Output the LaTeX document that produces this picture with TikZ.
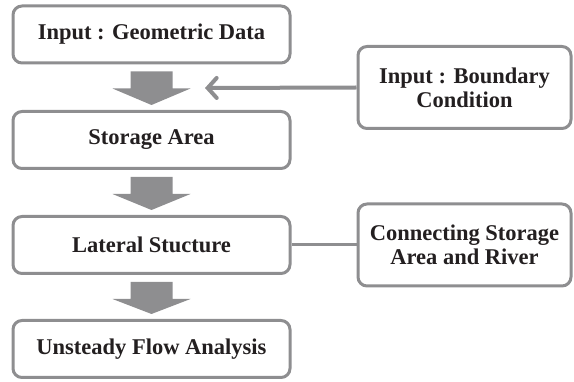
\documentclass[tikz,border=0pt]{standalone}
\usepackage{fontspec}
\setmainfont{Liberation Serif}
\usetikzlibrary{arrows.meta,calc}
\definecolor{boxgray}{HTML}{8E8E90}
\definecolor{txt}{HTML}{231F20}
\tikzset{
  box/.style={draw=boxgray, line width=3pt, rounded corners=9pt, fill=white,
    text=txt, font=\bfseries\fontsize{22.5}{24}\selectfont, align=center,
    inner sep=0pt},
  mainbox/.style={box, minimum width=277pt, minimum height=57pt},
  sidebox/.style={box, minimum width=213pt, minimum height=82pt},
  blockarrow/.style={fill=boxgray, draw=none},
  link/.style={draw=boxgray, line width=3pt}
}
\newcommand{\blockarr}[2]{%
  \fill[blockarrow] ($(#1.south)+(-21,7)$) -- ($(#1.south)+(21,7)$)
    -- ($(#1.south)+(21,24)$) -- ($(#1.south)+(39,24)$)
    -- ($(#2.north)+(0,-5)$) -- ($(#1.south)+(-39,24)$)
    -- ($(#1.south)+(-21,24)$) -- cycle;}
\begin{document}
\begin{tikzpicture}[x=1pt,y=-1pt]
\useasboundingbox (0,0) rectangle (574,382);
\node[mainbox] (b1) at (151.5,34.5) {Input : Geometric Data};
\node[mainbox] (b2) at (151.5,140) {Storage Area};
\node[mainbox] (b3) at (151.5,245) {Lateral Stucture};
\node[mainbox] (b4) at (151.5,349) {Unsteady Flow Analysis};
\node[sidebox] (s1) at (464.5,87.5) {Input : Boundary\\Condition};
\node[sidebox] (s2) at (464.5,245) {Connecting Storage\\Area and River};
\blockarr{b1}{b2}
\blockarr{b2}{b3}
\blockarr{b3}{b4}
\coordinate (tip) at (205,88);
\draw[draw=boxgray, line width=4pt, -{Straight Barb[length=9pt,width=20pt,line cap=round]}] (s1.west) -- (tip);
\draw[link] (b3.east) -- (s2.west);
\end{tikzpicture}
\end{document}
